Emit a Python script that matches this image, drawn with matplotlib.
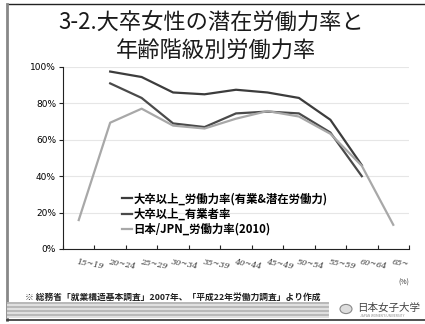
import numpy as np
import matplotlib
matplotlib.use('Agg')
import matplotlib.pyplot as plt
from matplotlib.lines import Line2D
from matplotlib.patches import Circle

plt.rcParams['font.family'] = ['Noto Sans CJK JP', 'DejaVu Sans']

# age groups (x axis)
ages = ['15~19', '20~24', '25~29', '30~34', '35~39', '40~44',
        '45~49', '50~54', '55~59', '60~64', '65~']

# labour force rate, university graduates (employed + latent)
grad_labour = [np.nan, 97.5, 94.5, 86.0, 85.0, 87.5, 86.0, 83.0, 71.0, 46.0, np.nan]
# employment rate, university graduates
grad_employed = [np.nan, 91.0, 83.0, 69.0, 67.0, 74.5, 75.5, 74.5, 64.0, 40.0, np.nan]
# Japan labour force rate 2010
jpn_labour = [15.9, 69.4, 77.1, 67.8, 66.2, 71.6, 75.8, 72.8, 63.3, 45.7, 13.3]

labels = ['大卒以上_労働力率(有業&潜在労働力)', '大卒以上_有業者率', '日本/JPN_労働力率(2010)']
colors = ['#3c3c3c', '#4a4a4a', '#a8a8a8']

fig = plt.figure(figsize=(4.25, 3.24), dpi=100)
W, H = 425.0, 324.0

ax = fig.add_axes([63 / W, 1 - 249 / H, (409 - 63) / W, (249 - 67) / H])
x = np.arange(len(ages))
for s, lab, c in zip([grad_labour, grad_employed, jpn_labour], labels, colors):
    ax.plot(x, s, color=c, lw=1.6, label=lab)

ax.set_xlim(-0.5, len(ages) - 0.5)
ax.set_ylim(0, 100)
ax.set_yticks(range(0, 101, 20))
ax.set_yticklabels(['%d%%' % v for v in range(0, 101, 20)], fontsize=6.5,
                   family='DejaVu Sans')
ax.set_xticks(np.arange(len(ages) + 1) - 0.5)
ax.set_xticklabels([])
for i, a in enumerate(ages):
    ax.text(i - 0.05, -7, a, fontsize=5.9, style='italic', family='DejaVu Serif',
            color='#333333', rotation=-10, rotation_mode='anchor',
            ha='left', va='center')
ax.text(10.35, -18.5, '(%)', fontsize=5, ha='center', va='center', color='#333333')

ax.grid(axis='y', color='#e6e6e6', lw=0.8)
ax.set_axisbelow(True)
for sp in ['top', 'right']:
    ax.spines[sp].set_visible(False)
ax.spines['left'].set_color('#222222')
ax.spines['bottom'].set_color('#222222')
ax.tick_params(axis='both', length=3, width=0.8, color='#222222', pad=2)
ax.tick_params(axis='x', direction='in')

leg = ax.legend(loc='upper left', bbox_to_anchor=(0.14, 0.367), frameon=False,
                handlelength=0.9, handletextpad=0.15, labelspacing=0.2,
                prop={'size': 8.2, 'weight': 'bold'})

# title
fig.text(211 / W, 1 - 22 / H, '3-2.大卒女性の潜在労働力率と', fontsize=16,
         ha='center', va='center', color='#1a1a1a')
fig.text(216 / W, 1 - 51 / H, '年齢階級別労働力率', fontsize=16,
         ha='center', va='center', color='#1a1a1a')

# source note
fig.text(25 / W, 1 - 297 / H,
         '※ 総務省「就業構造基本調査」2007年、「平成22年労働力調査」より作成',
         fontsize=6.3, ha='left', va='center', color='#222222', weight='bold')

# slide frame
fig.add_artist(Line2D([7 / W, 1], [1 - 4 / H, 1 - 4 / H], color='#222222', lw=1))
fig.add_artist(Line2D([7 / W, 7 / W], [1 - 4 / H, 1 - 320 / H], color='#888888', lw=2))
fig.add_artist(Line2D([7 / W, 1], [1 - 320 / H, 1 - 320 / H], color='#333333', lw=1.2))

# footer stripes
stripe_y = np.arange(303, 319, 2)
for k, yy in enumerate(stripe_y):
    fig.add_artist(Line2D([8 / W, 328 / W], [1 - yy / H, 1 - yy / H],
                          color=['#b8b8b8', '#e0e0e0'][k % 2], lw=1.4))

# logo
fig.add_artist(Circle((346 / W, 1 - 309 / H), 6 / W, transform=fig.transFigure,
                      fc='#dddddd', ec='#888888', lw=0.8))
fig.text(357 / W, 1 - 308 / H, '日本女子大学', fontsize=7.6, ha='left',
         va='center', color='#444444')
fig.text(360 / W, 1 - 316 / H, 'JAPAN WOMEN\'S UNIVERSITY', fontsize=2.3,
         ha='left', va='center', color='#888888')

fig.savefig('out.png', dpi=100)
